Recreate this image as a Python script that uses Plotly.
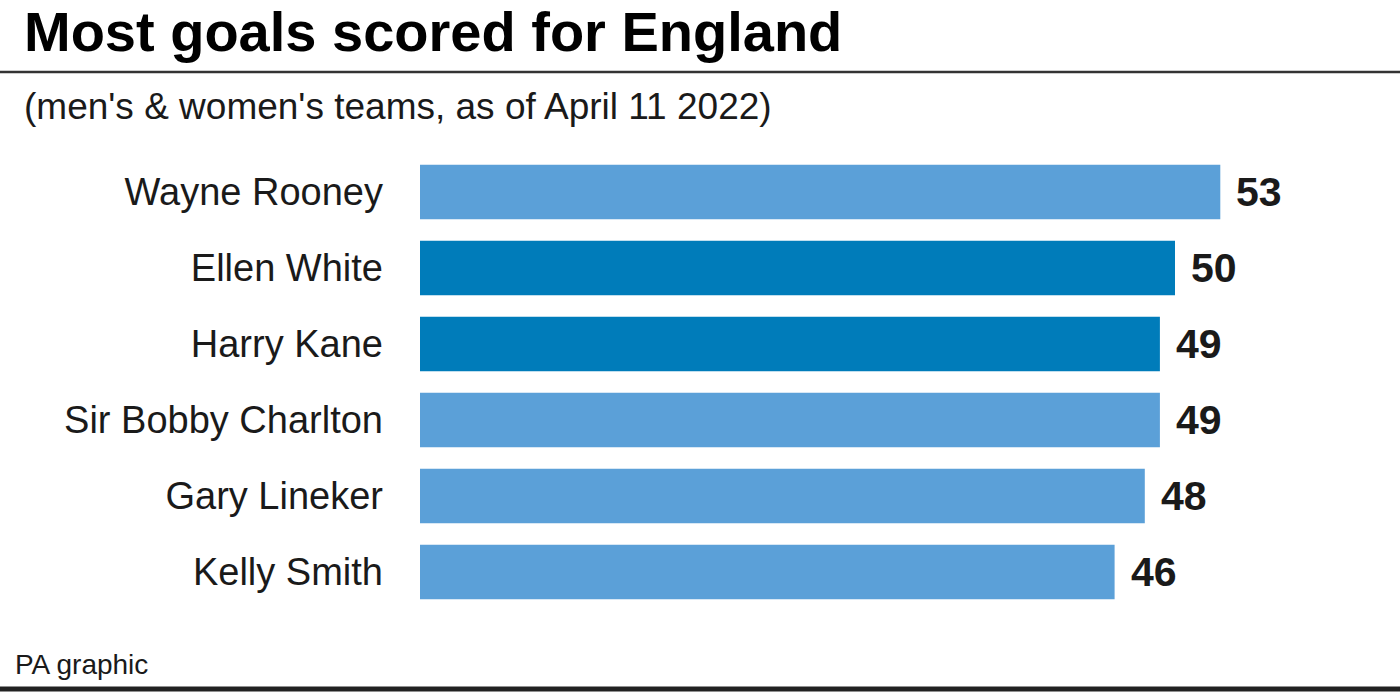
import plotly.graph_objects as go

players = ["Wayne Rooney", "Ellen White", "Harry Kane", "Sir Bobby Charlton", "Gary Lineker", "Kelly Smith"]
goals = [53, 50, 49, 49, 48, 46]
highlight = [False, True, True, False, False, False]

light = "#5BA0D8"
dark = "#007CBA"
colors = [dark if h else light for h in highlight]

W, H = 1400, 692
FONT = "Liberation Sans"

ML, MT, MB = 420, 154, 82
xmax = 60
px_per = 800 / 53
PW = xmax * px_per
MR = W - ML - PW
PH = H - MT - MB


def px(x):
    return (x - ML) / PW


def py(y):
    return 1 - (y - MT) / PH


fig = go.Figure()
fig.add_trace(go.Bar(
    x=goals, y=players, orientation="h",
    marker=dict(color=colors, line=dict(width=0)),
    hoverinfo="skip",
))

for p, g in zip(players, goals):
    fig.add_annotation(x=g, y=p, xref="x", yref="y", text=f"<b>{g}</b>",
                       showarrow=False, xanchor="left", yanchor="middle",
                       xshift=14, font=dict(family=FONT, size=41, color="#1a1a1a"))

# title / subtitle / source
fig.add_annotation(x=px(22), y=py(32), xref="paper", yref="paper",
                   text="<b>Most goals scored for England</b>", showarrow=False,
                   xanchor="left", yanchor="middle",
                   font=dict(family=FONT, size=56, color="#000"))
fig.add_annotation(x=px(22), y=py(106), xref="paper", yref="paper",
                   text="(men's & women's teams, as of April 11 2022)", showarrow=False,
                   xanchor="left", yanchor="middle",
                   font=dict(family=FONT, size=37, color="#1a1a1a"))
fig.add_annotation(x=px(13), y=py(664), xref="paper", yref="paper",
                   text="PA graphic", showarrow=False,
                   xanchor="left", yanchor="middle",
                   font=dict(family=FONT, size=28, color="#1a1a1a"))

fig.add_shape(type="line", xref="paper", yref="paper", x0=px(0), x1=px(W),
              y0=py(72), y1=py(72), line=dict(color="#333", width=2.5))
fig.add_shape(type="line", xref="paper", yref="paper", x0=px(0), x1=px(W),
              y0=py(689), y1=py(689), line=dict(color="#222", width=5))

fig.update_layout(
    width=W, height=H,
    margin=dict(l=ML, r=MR, t=MT, b=MB, autoexpand=False),
    paper_bgcolor="white", plot_bgcolor="white",
    bargap=0.28, showlegend=False,
    xaxis=dict(range=[0, xmax], visible=False, fixedrange=True),
    yaxis=dict(autorange="reversed", showgrid=False, zeroline=False, showline=False,
               ticks="", tickfont=dict(family=FONT, size=38, color="#1a1a1a"),
               ticklabelstandoff=36, fixedrange=True),
)

fig.write_html("out.html", config={"displayModeBar": False},
               post_script="document.body.style.margin='0';")
